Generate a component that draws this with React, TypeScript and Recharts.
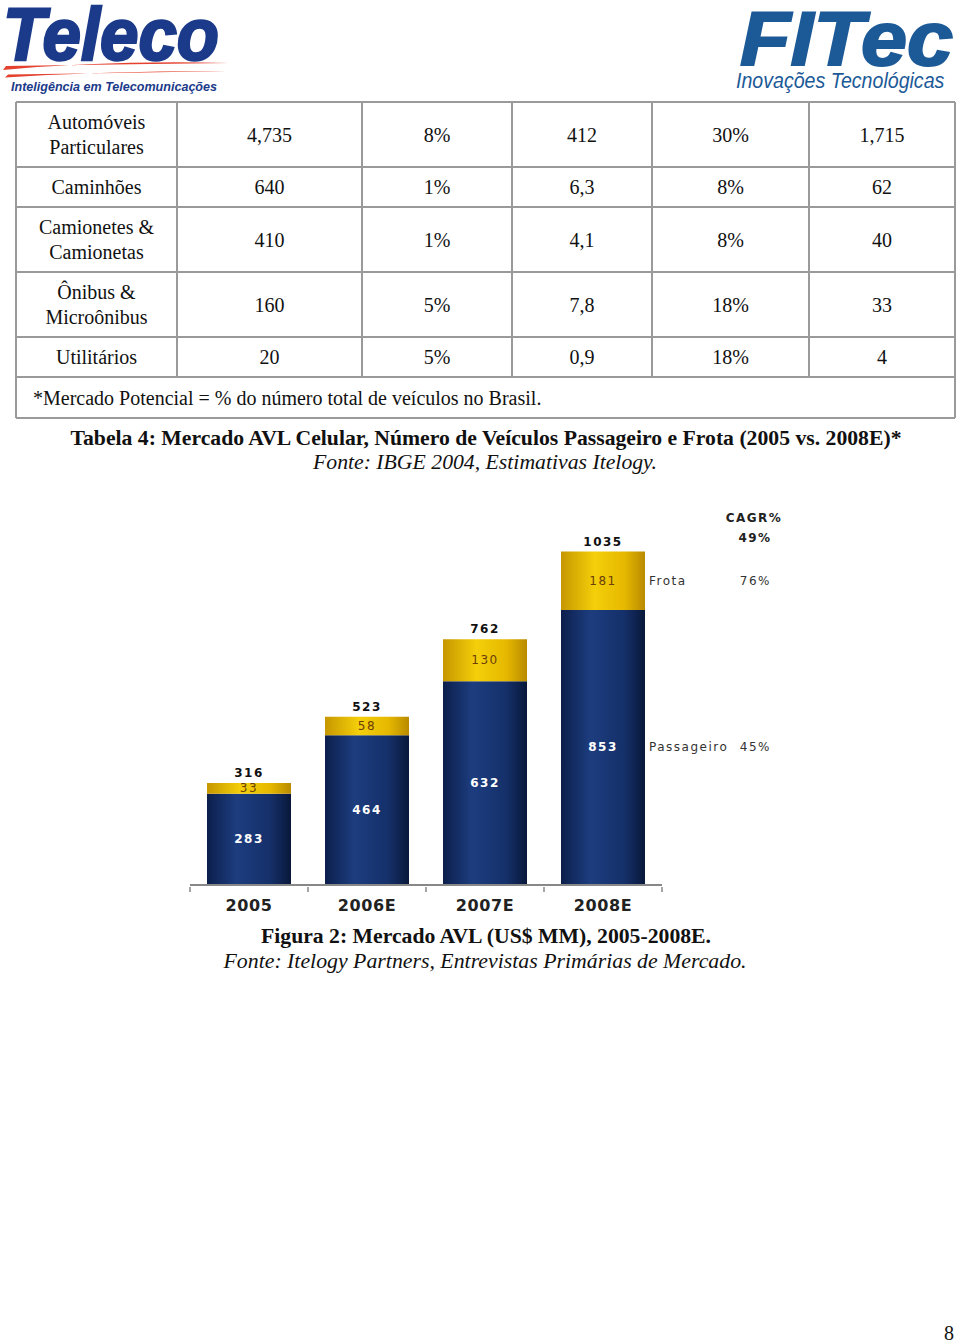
import React from "react";
import { BarChart, Bar, XAxis, YAxis, LabelList } from "recharts";

// ---------- chart data ----------
const years = ["2005", "2006E", "2007E", "2008E"];
const passageiro = [283, 464, 632, 853];
const frota = [33, 58, 130, 181];
const totals = [316, 523, 762, 1035];
const seriesNames = ["Passageiro", "Frota"];
const cagr = ["45%", "76%"];
const cagrTitle = "CAGR%";
const cagrTotal = "49%";

// ---------- table data ----------
const vehicleTypes = [
  ["Automóveis", "Particulares"],
  ["Caminhões"],
  ["Camionetes &", "Camionetas"],
  ["Ônibus &", "Microônibus"],
  ["Utilitários"],
];
const colA = ["4,735", "640", "410", "160", "20"];
const colB = ["8%", "1%", "1%", "5%", "5%"];
const colC = ["412", "6,3", "4,1", "7,8", "0,9"];
const colD = ["30%", "8%", "8%", "18%", "18%"];
const colE = ["1,715", "62", "40", "33", "4"];
const tableNote = "*Mercado Potencial = % do número total de veículos no Brasil.";

const tableCaption = "Tabela 4: Mercado AVL Celular, Número de Veículos Passageiro e Frota (2005 vs. 2008E)*";
const tableSource = "Fonte: IBGE 2004, Estimativas Itelogy.";
const figCaption = "Figura 2: Mercado AVL (US$ MM), 2005-2008E.";
const figSource = "Fonte: Itelogy Partners, Entrevistas Primárias de Mercado.";
const pageNumber = "8";

const data = years.map((y, i) => ({
  year: y,
  passageiro: passageiro[i],
  frota: frota[i],
  total: totals[i],
}));

const CHART_W = 660;
const CHART_H = 450;
const X_AXIS_H = 30;
const MARGIN = { top: 18, right: 148, bottom: 15, left: 40 };
const BAND = (CHART_W - MARGIN.left - MARGIN.right) / years.length;
const LBL_FONT = "'DejaVu Sans', Verdana, sans-serif";

const YearTick = (props: any) => {
  const { x, y, payload, index } = props;
  const half = BAND / 2;
  return (
    <g>
      <line x1={x - half} y1={y} x2={x - half} y2={y + 5} stroke="#888" strokeWidth={1.5} />
      {index === years.length - 1 && (
        <line x1={x + half} y1={y} x2={x + half} y2={y + 5} stroke="#888" strokeWidth={1.5} />
      )}
      <text
        x={x}
        y={y + 18}
        textAnchor="middle"
        dominantBaseline="central"
        fontFamily={LBL_FONT}
        fontWeight="bold"
        fontSize={16}
        letterSpacing={0.6}
        fill="#222"
      >
        {payload.value}
      </text>
    </g>
  );
};

const PassLabel = (props: any) => {
  const { x, y, width, height, value, index } = props;
  const cx = x + width / 2;
  const cy = y + height / 2;
  const last = index === years.length - 1;
  return (
    <g fontFamily={LBL_FONT} fontSize={12} letterSpacing={1.5}>
      <text x={cx} y={cy} textAnchor="middle" dominantBaseline="central" fontWeight="bold" fill="#ffffff">
        {value}
      </text>
      {last && (
        <>
          <text x={x + width + 4} y={cy} dominantBaseline="central" fill="#333">
            {seriesNames[0]}
          </text>
          <text x={x + width + 126} y={cy} textAnchor="end" dominantBaseline="central" fill="#333">
            {cagr[0]}
          </text>
        </>
      )}
    </g>
  );
};

const FrotaLabel = (props: any) => {
  const { x, y, width, height, value, index } = props;
  const cx = x + width / 2;
  const cy = y + height / 2;
  const last = index === years.length - 1;
  return (
    <g fontFamily={LBL_FONT} fontSize={12} letterSpacing={1.5}>
      <text x={cx} y={cy} textAnchor="middle" dominantBaseline="central" fill="#6b3d08">
        {value}
      </text>
      <text x={cx} y={y - 10} textAnchor="middle" dominantBaseline="central" fontWeight="bold" fill="#111">
        {totals[index]}
      </text>
      {last && (
        <>
          <text x={x + width + 4} y={cy} dominantBaseline="central" fill="#333">
            {seriesNames[1]}
          </text>
          <text x={x + width + 126} y={cy} textAnchor="end" dominantBaseline="central" fill="#333">
            {cagr[1]}
          </text>
          <text x={x + width + 109} y={y - 34} textAnchor="middle" dominantBaseline="central" fontWeight="bold" fill="#222">
            {cagrTitle}
          </text>
          <text x={x + width + 110} y={y - 14} textAnchor="middle" dominantBaseline="central" fontWeight="bold" fill="#222">
            {cagrTotal}
          </text>
        </>
      )}
    </g>
  );
};

const xs = [16, 177, 362, 512, 652, 809, 955];
const ys = [102, 167, 207, 272, 337, 377, 418];

const PageBackdrop = () => {
  const serif = "'Liberation Serif', 'Times New Roman', serif";
  const cols = [colA, colB, colC, colD, colE];
  const lines: any[] = [];
  ys.forEach((yy, i) =>
    lines.push(<line key={"h" + i} x1={xs[0]} y1={yy} x2={xs[6]} y2={yy} stroke="#9a9a9a" strokeWidth={2} />)
  );
  xs.forEach((xx, i) => {
    const bottom = i === 0 || i === xs.length - 1 ? ys[6] : ys[5];
    lines.push(<line key={"v" + i} x1={xx} y1={ys[0]} x2={xx} y2={bottom} stroke="#9a9a9a" strokeWidth={2} />);
  });
  const cells: any[] = [];
  vehicleTypes.forEach((names, r) => {
    const cy = (ys[r] + ys[r + 1]) / 2;
    const cx0 = (xs[0] + xs[1]) / 2;
    names.forEach((n, k) => {
      const yy = names.length === 1 ? cy : cy - 12.5 + 25 * k;
      cells.push(
        <text key={`n${r}${k}`} x={cx0} y={yy} textAnchor="middle" dominantBaseline="central">
          {n}
        </text>
      );
    });
    cols.forEach((col, c) => {
      const cx = (xs[c + 1] + xs[c + 2]) / 2;
      cells.push(
        <text key={`c${r}${c}`} x={cx} y={cy} textAnchor="middle" dominantBaseline="central">
          {col[r]}
        </text>
      );
    });
  });
  return (
    <svg width={960} height={1343} style={{ position: "absolute", left: 0, top: 0 }}>
      <rect x={0} y={0} width={960} height={1343} fill="#ffffff" />
      {/* Teleco logo */}
      <text
        x={3}
        y={60}
        fontFamily="'Liberation Sans', Arial, sans-serif"
        fontWeight="bold"
        fontStyle="italic"
        fontSize={74}
        fill="#1b3a8a"
        stroke="#1b3a8a"
        strokeWidth={2.5}
        textLength={216}
        lengthAdjust="spacingAndGlyphs"
      >
        Teleco
      </text>
      <path d="M3 70 Q110 60 229 63 Q110 64.5 6 66 Z" fill="#e4412e" />
      <path d="M5 77.5 Q115 70.5 227 71 Q115 73 8 74.5 Z" fill="#e4412e" />
      <text
        x={11}
        y={91}
        fontFamily="'Liberation Sans', Arial, sans-serif"
        fontWeight="bold"
        fontStyle="italic"
        fontSize={13}
        fill="#1b3a8a"
        textLength={206}
        lengthAdjust="spacingAndGlyphs"
      >
        Inteligência em Telecomunicações
      </text>
      {/* FITec logo */}
      <text
        x={740}
        y={65}
        fontFamily="'Liberation Sans', Arial, sans-serif"
        fontWeight="bold"
        fontStyle="italic"
        fontSize={76}
        fill="#1c5a97"
        stroke="#1c5a97"
        strokeWidth={2}
        textLength={213}
        lengthAdjust="spacingAndGlyphs"
      >
        FITec
      </text>
      <g transform="translate(736,88) scale(1,1.12)">
        <text
          x={0}
          y={0}
          fontFamily="'Liberation Sans', Arial, sans-serif"
          fontStyle="italic"
          fontSize={19.6}
          fill="#1c5a97"
        >
          Inovações Tecnológicas
        </text>
      </g>
      {/* table */}
      {lines}
      <g fontFamily={serif} fontSize={20} fill="#111">
        {cells}
        <text x={33} y={(ys[5] + ys[6]) / 2} dominantBaseline="central">
          {tableNote}
        </text>
      </g>
      {/* captions */}
      <g fontFamily={serif} fontSize={20} fill="#111">
        <text x={486} y={438} textAnchor="middle" dominantBaseline="central" fontWeight="bold" textLength={831} lengthAdjust="spacingAndGlyphs">
          {tableCaption}
        </text>
        <text x={485} y={462} textAnchor="middle" dominantBaseline="central" fontStyle="italic" textLength={344} lengthAdjust="spacingAndGlyphs">
          {tableSource}
        </text>
        <text x={486} y={936} textAnchor="middle" dominantBaseline="central" fontWeight="bold" textLength={450} lengthAdjust="spacingAndGlyphs">
          {figCaption}
        </text>
        <text x={485} y={961} textAnchor="middle" dominantBaseline="central" fontStyle="italic" textLength={523} lengthAdjust="spacingAndGlyphs">
          {figSource}
        </text>
        <text x={949} y={1333} textAnchor="middle" dominantBaseline="central">
          {pageNumber}
        </text>
      </g>
    </svg>
  );
};

export default function App() {
  return (
    <div style={{ position: "absolute", left: 0, top: 0, width: 960, height: 1343, background: "#fff", overflow: "hidden" }}>
      <PageBackdrop />
      <div style={{ position: "absolute", left: 150, top: 480 }}>
        <BarChart width={CHART_W} height={CHART_H} data={data} margin={MARGIN} barSize={84}>
          <defs>
            <linearGradient id="blueGrad" x1="0" y1="0" x2="1" y2="0">
              <stop offset="0%" stopColor="#0c1f4c" />
              <stop offset="35%" stopColor="#1d3d7f" />
              <stop offset="75%" stopColor="#15306a" />
              <stop offset="100%" stopColor="#09183a" />
            </linearGradient>
            <linearGradient id="goldGrad" x1="0" y1="0" x2="1" y2="0">
              <stop offset="0%" stopColor="#c69700" />
              <stop offset="40%" stopColor="#f4cf0a" />
              <stop offset="75%" stopColor="#e6b900" />
              <stop offset="100%" stopColor="#b98a00" />
            </linearGradient>
          </defs>
          <XAxis
            dataKey="year"
            height={X_AXIS_H}
            axisLine={{ stroke: "#888", strokeWidth: 2 }}
            tickLine={false}
            tickSize={0}
            tick={<YearTick />}
            interval={0}
          />
          <YAxis hide domain={[0, 1200]} />
          <Bar dataKey="passageiro" stackId="a" fill="url(#blueGrad)" isAnimationActive={false}>
            <LabelList dataKey="passageiro" content={<PassLabel />} />
          </Bar>
          <Bar dataKey="frota" stackId="a" fill="url(#goldGrad)" isAnimationActive={false}>
            <LabelList dataKey="frota" content={<FrotaLabel />} />
          </Bar>
        </BarChart>
      </div>
    </div>
  );
}
